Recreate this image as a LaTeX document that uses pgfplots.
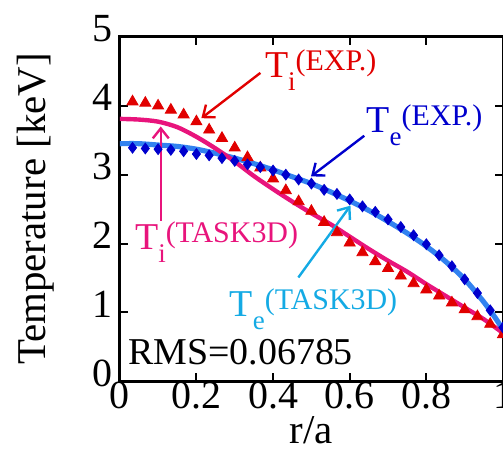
\documentclass[border=0pt]{standalone}
\usepackage{fontspec}
\setmainfont{Liberation Serif}
\usepackage{pgfplots}
\pgfplotsset{compat=1.18}
\usetikzlibrary{arrows.meta}
\definecolor{cred}{RGB}{225,0,0}
\definecolor{cblue}{RGB}{0,0,205}
\definecolor{cpink}{RGB}{232,20,124}
\definecolor{clblue}{RGB}{50,130,240}
\definecolor{ccyan}{RGB}{20,170,228}
\newcommand{\lbl}[2]{T\raisebox{-6.5pt}{\fontsize{13.5}{14}\selectfont #1}\raisebox{3.5pt}{\fontsize{15}{15}\selectfont (#2)}}
\begin{document}
\begin{tikzpicture}
\begin{axis}[
  at={(0,0)}, anchor=south west, scale only axis,
  width=192pt, height=172.5pt,
  xmin=0, xmax=1, ymin=0, ymax=5,
  xtick={0,0.2,0.4,0.6,0.8,1}, xticklabels={0,0.2,0.4,0.6,0.8,1},
  ytick={0,1,2,3,4,5},
  tick align=inside, major tick length=4pt,
  axis line style={line width=1.5pt},
  every tick/.style={black, line width=1pt},
  tick label style={font=\fontsize{20}{23}\selectfont},
  /pgf/number format/assume math mode=true,
  xticklabel style={yshift=3pt},
  yticklabel style={yshift=4pt},
  xlabel={r/a},
  xlabel style={at={(axis description cs:0.5,-0.180)}, anchor=base, inner sep=0pt, font=\fontsize{20.5}{23}\selectfont},
  ylabel={Temperature [keV]},
  ylabel style={at={(axis description cs:-0.193,0.5)}, anchor=base, font=\fontsize{20.5}{23}\selectfont},
]
% Te TASK3D
\addplot[clblue, line width=2.6pt, smooth, no marks] coordinates {
(0,3.45)(0.05,3.45)(0.1,3.43)(0.15,3.41)(0.2,3.37)(0.25,3.31)(0.3,3.24)(0.35,3.16)(0.4,3.07)(0.45,2.97)(0.5,2.87)(0.55,2.75)(0.6,2.62)(0.65,2.48)(0.7,2.32)(0.75,2.15)(0.8,1.96)(0.85,1.74)(0.9,1.48)(0.95,1.15)(0.98,0.92)(1.0,0.75)};
% Ti TASK3D
\addplot[cpink, line width=2.2pt, smooth, no marks] coordinates {
(0,3.81)(0.05,3.80)(0.1,3.77)(0.15,3.69)(0.2,3.55)(0.25,3.38)(0.3,3.19)(0.35,2.98)(0.4,2.79)(0.45,2.61)(0.5,2.44)(0.55,2.28)(0.6,2.10)(0.65,1.92)(0.7,1.75)(0.75,1.59)(0.8,1.41)(0.85,1.24)(0.9,1.07)(0.95,0.90)(1.0,0.70)};
% Ti EXP
\addplot[only marks, mark=triangle*, mark size=3.2pt, cred, mark options={draw=cred, fill=cred}] coordinates {
(0.0333,4.06)(0.0667,4.04)(0.1,4.00)(0.1333,3.94)(0.1667,3.87)(0.2,3.77)(0.2333,3.65)(0.2667,3.53)(0.3,3.39)(0.3333,3.25)
(0.3667,3.10)(0.4,2.94)(0.4333,2.77)(0.4667,2.61)(0.5,2.47)(0.5333,2.31)(0.5667,2.16)(0.6,2.01)(0.6333,1.87)(0.6667,1.74)
(0.7,1.64)(0.7333,1.53)(0.7667,1.42)(0.8,1.33)(0.8333,1.24)(0.8667,1.14)(0.9,1.04)(0.9333,0.94)(0.9667,0.83)(1.0,0.68)};
% Te EXP
\addplot[only marks, mark=diamond*, mark size=2.7pt, cblue, mark options={draw=cblue, fill=cblue}] coordinates {
(0.0333,3.39)(0.0667,3.38)(0.1,3.37)(0.1333,3.36)(0.1667,3.34)(0.2,3.30)(0.2333,3.28)(0.2667,3.24)(0.3,3.20)(0.3333,3.15)
(0.3667,3.11)(0.4,3.06)(0.4333,3.00)(0.4667,2.93)(0.5,2.87)(0.5333,2.78)(0.5667,2.72)(0.6,2.64)(0.6333,2.54)(0.6667,2.46)
(0.7,2.35)(0.7333,2.24)(0.7667,2.12)(0.8,1.99)(0.8333,1.83)(0.8667,1.67)(0.9,1.48)(0.9333,1.28)(0.9667,1.03)(1.0,0.78)};
% annotations
\node[cred, anchor=base west, inner sep=0, font=\fontsize{19}{22}\selectfont] at (axis cs:0.378,4.406) {\lbl{i}{EXP.}};
\node[cblue, anchor=base west, inner sep=0, font=\fontsize{19}{22}\selectfont] at (axis cs:0.643,3.609) {\lbl{e}{EXP.}};
\node[cpink, anchor=base west, inner sep=0, font=\fontsize{19}{22}\selectfont] at (axis cs:0.039,1.913) {\lbl{i}{TASK3D}};
\node[ccyan, anchor=base west, inner sep=0, font=\fontsize{19}{22}\selectfont] at (axis cs:0.286,0.942) {\lbl{e}{TASK3D}};
\node[black, anchor=base west, inner sep=0, font=\fontsize{19}{22}\selectfont] at (axis cs:0.021,0.246) {RMS=0.06785};
\draw[cred, line width=1.2pt, -{Straight Barb[length=5pt,width=8pt]}] (axis cs:0.367,4.478) -- (axis cs:0.213,3.82);
\draw[cblue, line width=1.2pt, -{Straight Barb[length=5pt,width=8pt]}] (axis cs:0.638,3.565) -- (axis cs:0.499,2.975);
\draw[cpink, line width=1.2pt, -{Straight Barb[length=5pt,width=8pt]}] (axis cs:0.107,2.33) -- (axis cs:0.107,3.70);
\draw[ccyan, line width=1.2pt, -{Straight Barb[length=5pt,width=8pt]}] (axis cs:0.466,1.507) -- (axis cs:0.602,2.55);
\end{axis}
\pgfresetboundingbox
\path[use as bounding box] (-60pt,-34pt) rectangle (192pt,191pt);
\end{tikzpicture}
\end{document}
